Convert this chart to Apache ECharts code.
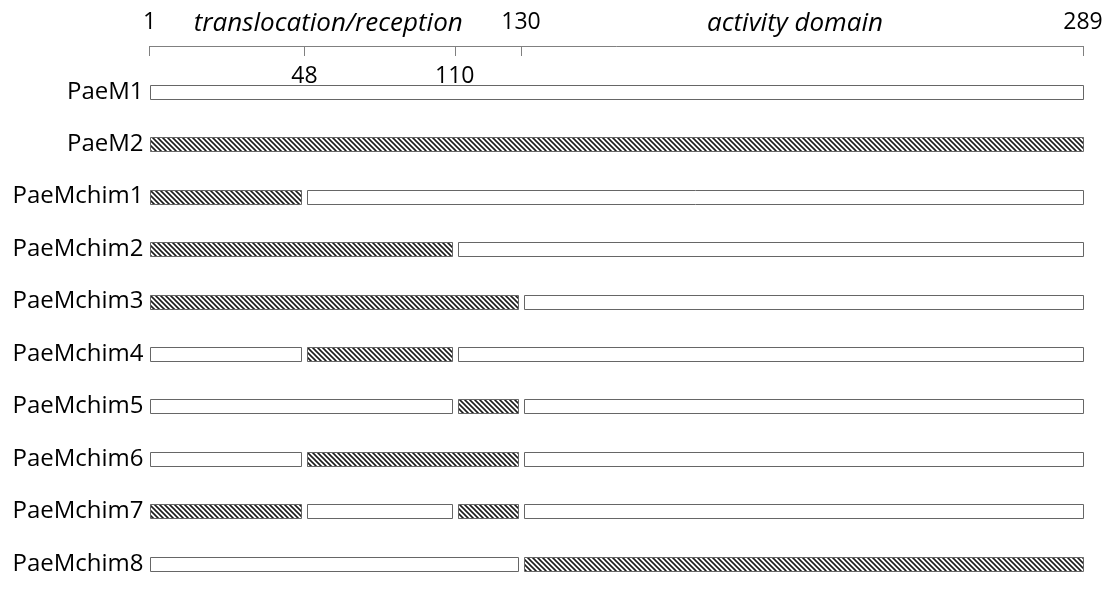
<!DOCTYPE html>
<html>
<head>
<meta charset="utf-8">
<script src="https://cdn.jsdelivr.net/npm/echarts@6/dist/echarts.min.js"></script>
<style>
  html, body { margin: 0; padding: 0; background: #fff; }
  #main { width: 1106px; height: 590px; }
</style>
</head>
<body>
<div id="main"></div>
<script>
// constructs, top to bottom
const categories = ['PaeM1', 'PaeM2', 'PaeMchim1', 'PaeMchim2', 'PaeMchim3',
  'PaeMchim4', 'PaeMchim5', 'PaeMchim6', 'PaeMchim7', 'PaeMchim8'];

// residue numbers marked on the ruler
const marks = [1, 48, 110, 130, 289];
// where each mark sits on the (schematic, not to scale) ruler, % of its length
const markPos = [0, 16.6, 32.7, 39.8, 100];

// domain names over the ruler, and the residue span each one covers
const domainNames = ['translocation/reception', 'activity domain'];
const domainSpans = [[1, 130], [130, 289]];

// segments of every construct: [from residue, to residue, 1 = PaeM2 origin (hatched)]
const segments = [
  [[1, 289, 0]],
  [[1, 289, 1]],
  [[1, 48, 1], [48, 289, 0]],
  [[1, 110, 1], [110, 289, 0]],
  [[1, 130, 1], [130, 289, 0]],
  [[1, 48, 0], [48, 110, 1], [110, 289, 0]],
  [[1, 110, 0], [110, 130, 1], [130, 289, 0]],
  [[1, 48, 0], [48, 130, 1], [130, 289, 0]],
  [[1, 48, 1], [48, 110, 0], [110, 130, 1], [130, 289, 0]],
  [[1, 130, 0], [130, 289, 1]]
];

function pos(residue) {
  return markPos[marks.indexOf(residue)];
}

// hatch tile (backslash stripes)
const hatch = document.createElement('canvas');
hatch.width = 5;
hatch.height = 5;
(function () {
  const c = hatch.getContext('2d');
  c.fillStyle = '#fff';
  c.fillRect(0, 0, 5, 5);
  c.strokeStyle = '#1c1c1c';
  c.lineWidth = 1.6;
  c.beginPath();
  c.moveTo(-5, -5); c.lineTo(10, 10);
  c.moveTo(-5, 0); c.lineTo(5, 10);
  c.moveTo(0, -5); c.lineTo(10, 5);
  c.stroke();
})();

const segData = [];
segments.forEach(function (row, i) {
  row.forEach(function (s) {
    segData.push([i, pos(s[0]), pos(s[1]), s[2], s[0] === 1 ? 1 : 0, s[1] === 289 ? 1 : 0]);
  });
});

const GRID_LEFT = 149.5;
const GRID_RIGHT = 23;
const FONT = '"Open Sans", "DejaVu Sans", sans-serif';

var chartDom = document.getElementById('main');
var myChart = echarts.init(chartDom);

function labelOf(v) {
  let best = 0;
  markPos.forEach(function (p, k) {
    if (Math.abs(p - v) < Math.abs(markPos[best] - v)) best = k;
  });
  return String(marks[best]);
}

var option = {
  animation: false,
  grid: [
    { left: GRID_LEFT, right: GRID_RIGHT, top: 65.5, height: 532 },
    { left: GRID_LEFT, right: GRID_RIGHT, top: 45, height: 1 }
  ],
  xAxis: [
    { gridIndex: 0, type: 'value', min: 0, max: 100, show: false },
    {
      gridIndex: 1, type: 'value', min: 0, max: 100, position: 'bottom',
      axisLine: { show: true, lineStyle: { color: '#808080', width: 1 } },
      axisTick: { show: true, customValues: markPos, length: 10, lineStyle: { color: '#808080' } },
      axisLabel: {
        customValues: [markPos[1], markPos[2]], formatter: labelOf, margin: 19,
        fontSize: 23, fontFamily: FONT, color: '#000'
      },
      splitLine: { show: false }
    },
    {
      gridIndex: 1, type: 'value', min: 0, max: 100, position: 'top',
      axisLine: { show: false }, axisTick: { show: false },
      axisLabel: {
        customValues: [markPos[0], markPos[3], markPos[4]], formatter: labelOf, margin: 11,
        fontSize: 23, fontFamily: FONT, color: '#000'
      },
      splitLine: { show: false }
    }
  ],
  yAxis: [
    {
      gridIndex: 0, type: 'category', data: categories, inverse: true,
      axisLine: { show: false }, axisTick: { show: false }, splitLine: { show: false },
      axisLabel: { margin: 6, fontSize: 24, fontFamily: FONT, color: '#000' }
    },
    { gridIndex: 1, type: 'value', show: false }
  ],
  series: [
    {
      type: 'custom',
      xAxisIndex: 0,
      yAxisIndex: 0,
      data: segData,
      encode: { x: [1, 2], y: 0 },
      renderItem: function (params, api) {
        const row = api.value(0);
        const a = api.coord([api.value(1), row]);
        const b = api.coord([api.value(2), row]);
        const h = 14;
        let x0 = Math.round(a[0]) + (api.value(4) ? 0 : 3);
        let x1 = Math.round(b[0]) - (api.value(5) ? 0 : 3);
        const y0 = Math.round(a[1] - h / 2);
        return {
          type: 'rect',
          shape: { x: x0 + 0.5, y: y0 + 0.5, width: x1 - x0, height: h },
          style: {
            fill: api.value(3) ? { image: hatch, repeat: 'repeat' } : '#fff',
            stroke: '#666',
            lineWidth: 1
          }
        };
      }
    }
  ],
  graphic: domainNames.map(function (name, k) {
    const mid = (pos(domainSpans[k][0]) + pos(domainSpans[k][1])) / 2;
    return {
      type: 'text',
      x: GRID_LEFT + (1106 - GRID_LEFT - GRID_RIGHT) * mid / 100 - 7,
      y: 24,
      style: {
        text: name, fill: '#000', fontSize: 26, fontStyle: 'italic', fontFamily: FONT,
        align: 'center', verticalAlign: 'middle'
      }
    };
  })
};

myChart.setOption(option);
</script>
</body>
</html>
